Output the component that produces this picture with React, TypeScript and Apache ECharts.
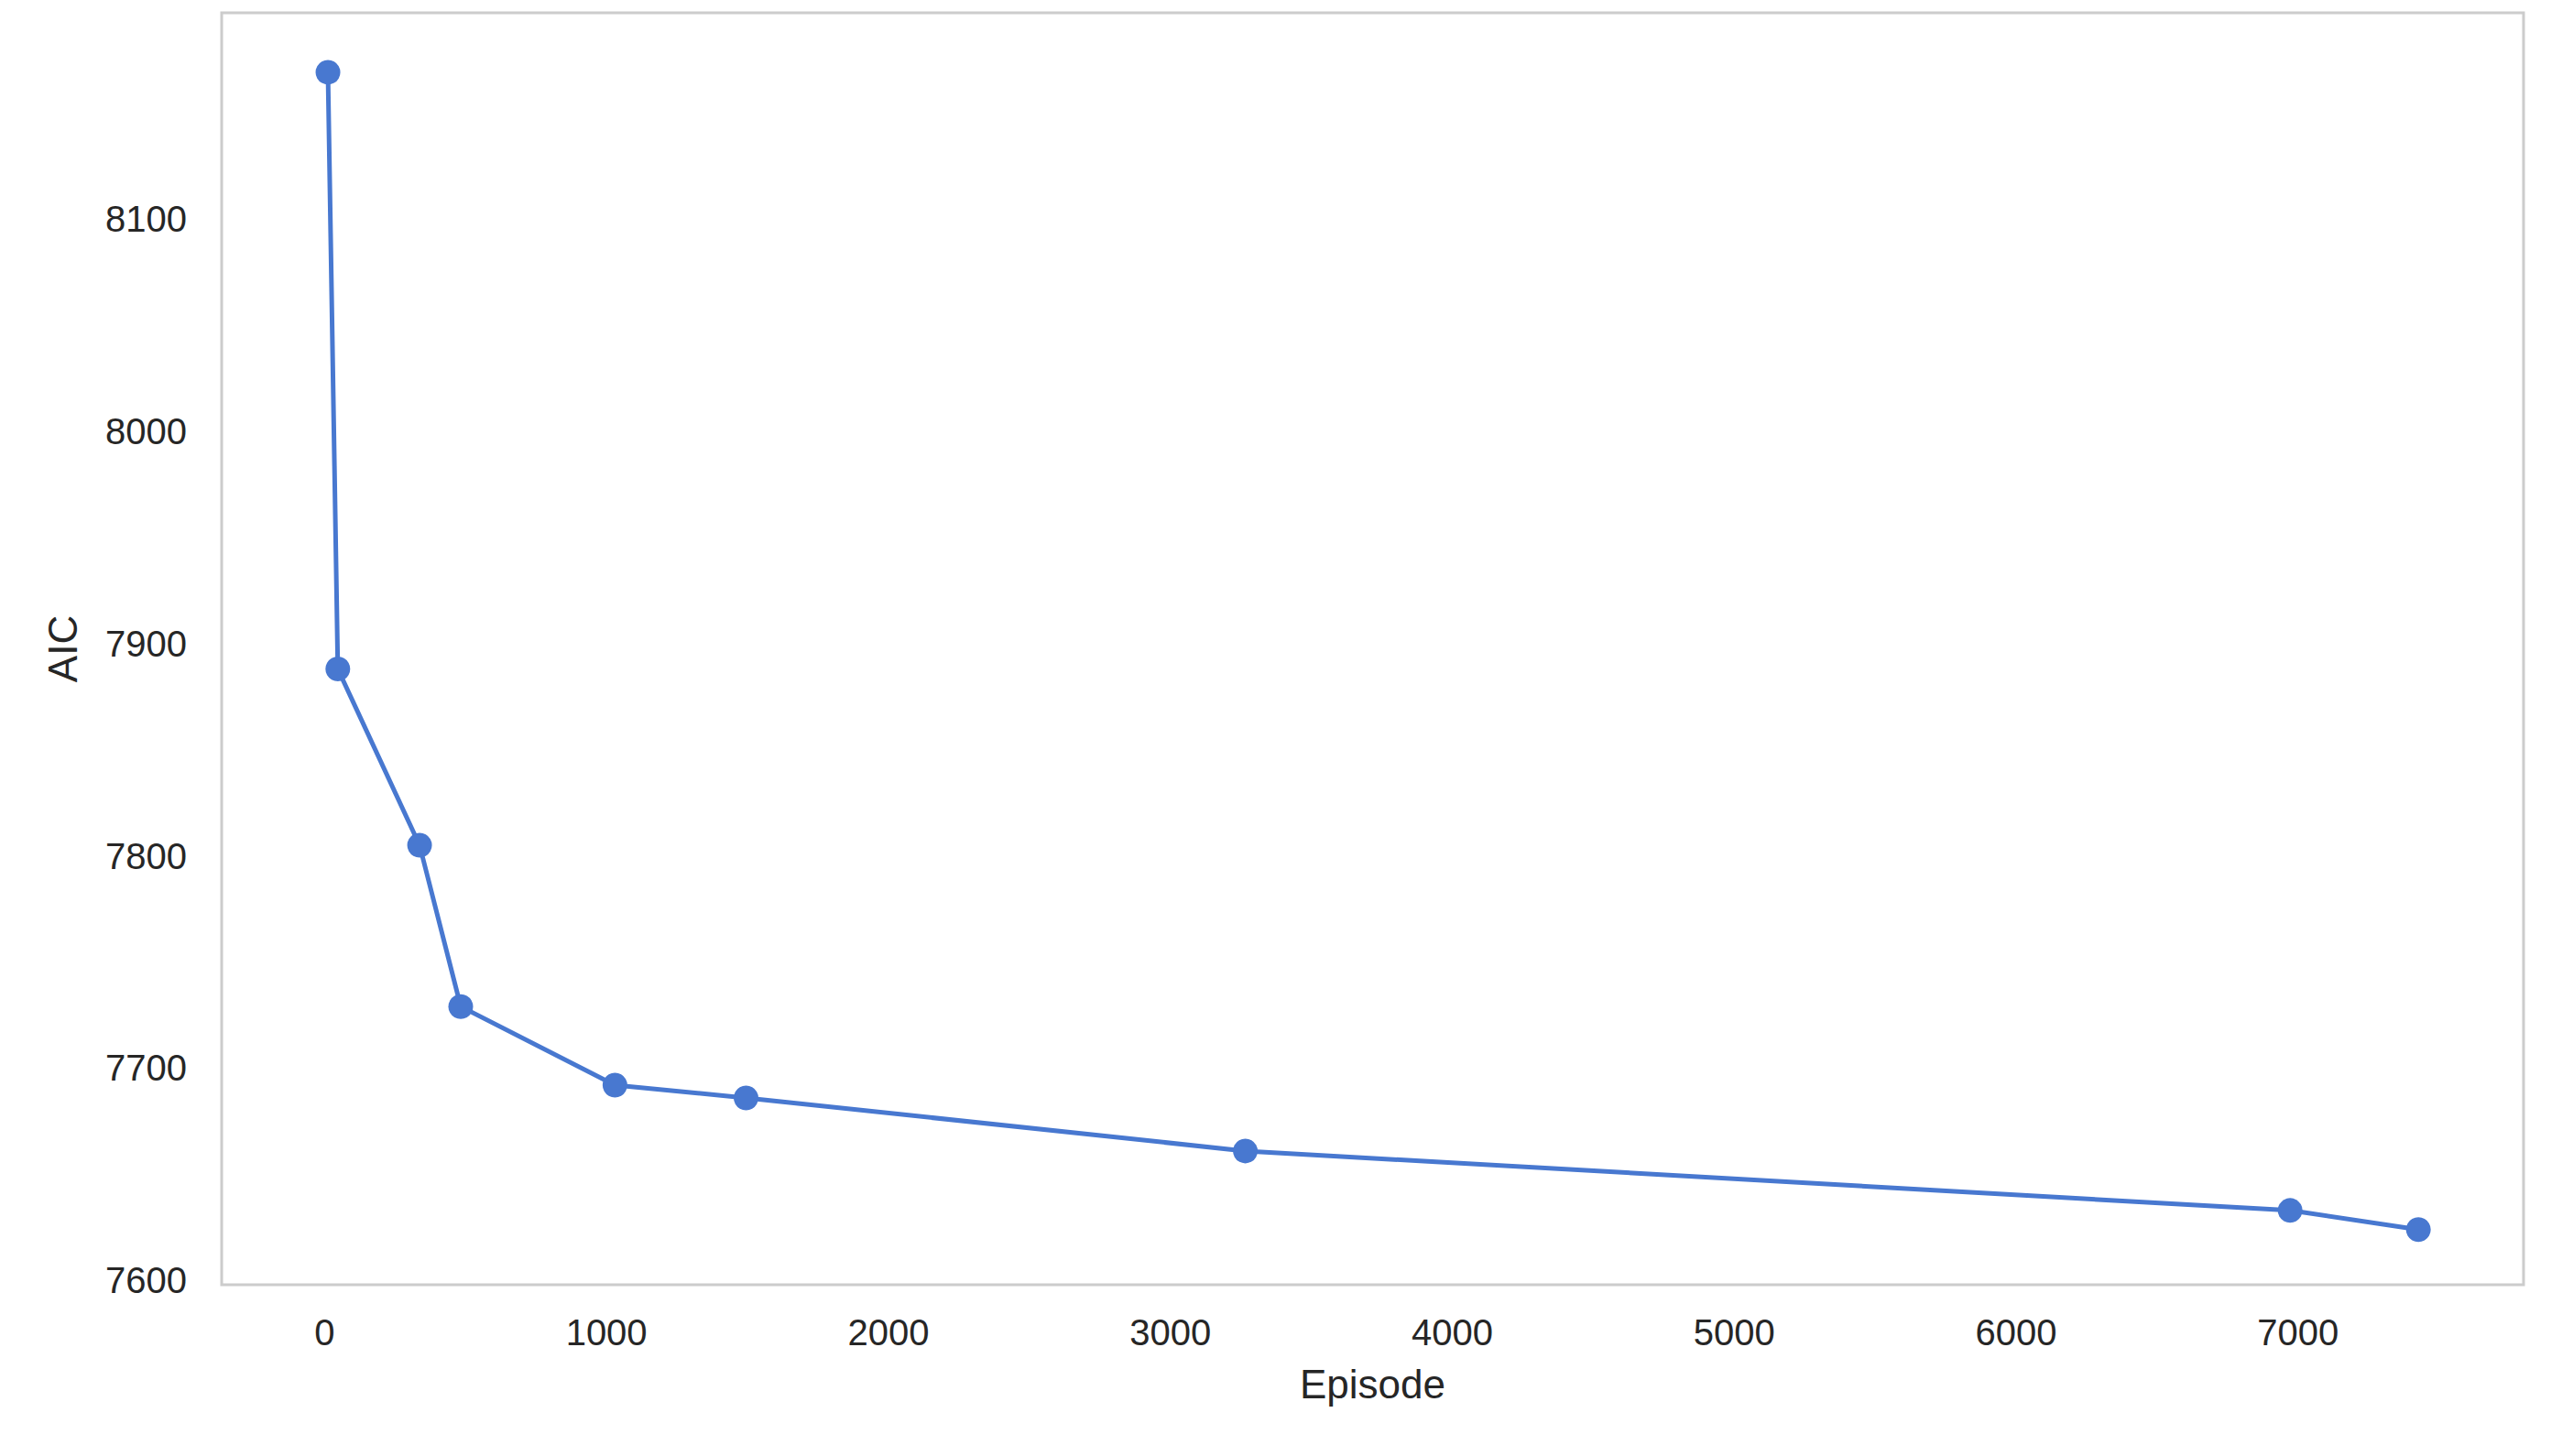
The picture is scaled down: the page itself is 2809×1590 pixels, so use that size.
import React, { useEffect, useRef } from "react";
import * as echarts from "echarts";

const episodes = [12, 47, 337, 483, 1030, 1495, 3266, 6972, 7427];
const aicValues = [8169, 7888, 7805, 7729, 7692, 7686, 7661, 7633, 7624];
const xTicks = [0, 1000, 2000, 3000, 4000, 5000, 6000, 7000];
const yTicks = [7600, 7700, 7800, 7900, 8000, 8100];

export default function App() {
  const ref = useRef<HTMLDivElement>(null);
  useEffect(() => {
    document.body.style.margin = "0";
    if (!ref.current) return;
    const chart = echarts.init(ref.current, undefined, { renderer: "svg" });
    const font = "Liberation Sans, Arial, sans-serif";
    chart.setOption({
      animation: false,
      backgroundColor: "#ffffff",
      grid: {
        left: 242,
        top: 14,
        right: 54,
        bottom: 187,
        show: true,
        borderColor: "#cccccc",
        borderWidth: 3,
        backgroundColor: "#ffffff",
      },
      xAxis: {
        type: "value",
        min: -365,
        max: 7800,
        name: "Episode",
        nameLocation: "middle",
        nameGap: 86,
        nameTextStyle: { fontFamily: font, fontSize: 44, color: "#262626" },
        axisLine: { show: false },
        axisTick: { show: false },
        splitLine: { show: false },
        axisLabel: {
          fontFamily: font,
          fontSize: 40,
          color: "#262626",
          margin: 32,
          customValues: xTicks,
          formatter: (v: number) => String(v),
        },
      },
      yAxis: {
        type: "value",
        min: 7598,
        max: 8197,
        name: "AIC",
        nameLocation: "middle",
        nameGap: 152,
        nameTextStyle: { fontFamily: font, fontSize: 44, color: "#262626" },
        axisLine: { show: false },
        axisTick: { show: false },
        splitLine: { show: false },
        axisLabel: {
          fontFamily: font,
          fontSize: 40,
          color: "#262626",
          margin: 38,
          customValues: yTicks,
          formatter: (v: number) => String(v),
        },
      },
      series: [
        {
          type: "line",
          data: episodes.map((e, i) => [e, aicValues[i]]),
          symbol: "circle",
          symbolSize: 27,
          lineStyle: { color: "#4878d0", width: 5 },
          itemStyle: { color: "#4878d0" },
        },
      ],
    });
    return () => chart.dispose();
  }, []);
  return <div ref={ref} style={{ width: 2809, height: 1590 }} />;
}
